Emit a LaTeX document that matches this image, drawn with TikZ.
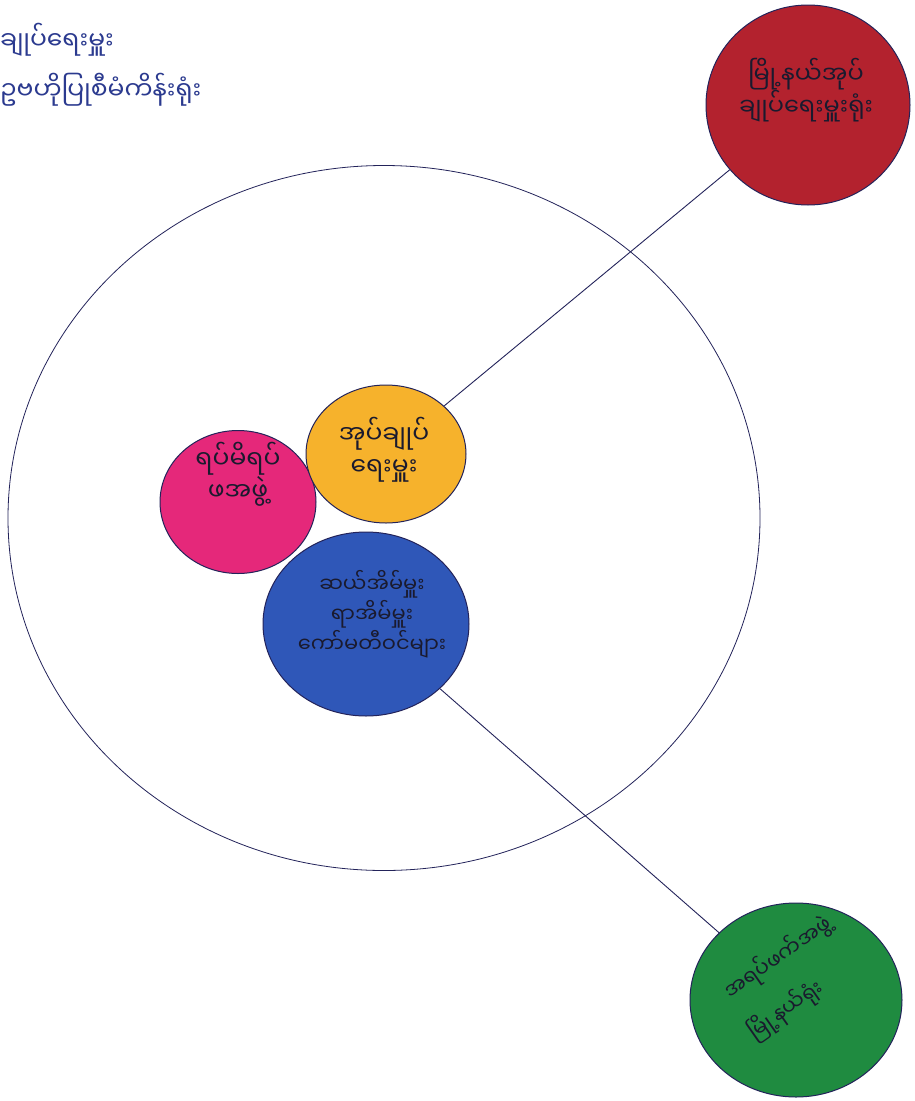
\documentclass[tikz,border=0pt]{standalone}
\usepackage{fontspec}
\newfontfamily\mm[Script=Myanmar]{Noto Sans Myanmar UI}
\usetikzlibrary{shapes.geometric}
\definecolor{ink}{HTML}{23235A}
\definecolor{pen}{HTML}{2B3A8F}
\definecolor{txt}{HTML}{1A1A2E}
\definecolor{cred}{HTML}{B3222E}
\definecolor{cyel}{HTML}{F6B22C}
\definecolor{cpink}{HTML}{E5287A}
\definecolor{cblue}{HTML}{2F57B8}
\definecolor{cgreen}{HTML}{1F8B40}
\tikzset{
  bubble/.style={ellipse, draw=ink, line width=1pt, inner sep=0pt},
  label/.style={font=\mm\fontsize{25}{32}\selectfont, text=txt, align=center, inner sep=0pt},
  legend/.style={font=\mm\fontsize{25}{28}\selectfont, text=pen, anchor=west, inner sep=0pt},
  link/.style={draw=ink, line width=0.9pt}
}
\begin{document}
\begin{tikzpicture}[x=1pt,y=-1pt]
\useasboundingbox (0,0) rectangle (915,1101);
\fill[white] (0,0) rectangle (915,1101);

% outer circle
\node[bubble, line width=0.8pt, minimum width=752pt, minimum height=705pt] (outer) at (384,518) {};

% circles
\node[bubble, fill=cred, minimum width=204pt, minimum height=200pt] (red) at (808,105) {};
\node[bubble, fill=cgreen, minimum width=212pt, minimum height=194pt] (green) at (796,1000) {};
\node[bubble, fill=cblue, minimum width=206pt, minimum height=184pt] (blue) at (366,624) {};
\node[bubble, fill=cpink, minimum width=156pt, minimum height=143pt] (pink) at (238,502) {};
\node[bubble, fill=cyel, minimum width=160pt, minimum height=138pt] (yellow) at (386,454) {};

% connectors
\draw[link] (yellow) -- (red);
\draw[link] (blue) -- (green);

% labels
\node[label, font=\mm\fontsize{24}{32}\selectfont] (tred) at (806,90) {မြို့နယ်အုပ်\\ချုပ်ရေးမှူးရုံး};
\node[label] (tyel) at (384,450) {အုပ်ချုပ်\\ရေးမှူး};
\node[label] (tpink) at (238,474) {ရပ်မိရပ်\\ဖအဖွဲ့};
\node[label, font=\mm\fontsize{21}{30}\selectfont] (tblue) at (372,614) {ဆယ်အိမ်မှူး\\ရာအိမ်မှူး\\ကော်မတီဝင်များ};
\node[label, rotate=35, font=\mm\fontsize{21}{26}\selectfont] (tgreen1) at (778,958) {အရပ်ဖက်အဖွဲ့};
\node[label, rotate=35, font=\mm\fontsize{21}{26}\selectfont] (tgreen2) at (786,1010) {မြို့နယ်ရုံး};

% legend (top left)
\node[legend] (l2) at (0,40) {ချုပ်ရေးမှူး};
\node[legend] (l3) at (0,90) {ဥဗဟိုပြုစီမံကိန်းရုံး};
\end{tikzpicture}
\end{document}
